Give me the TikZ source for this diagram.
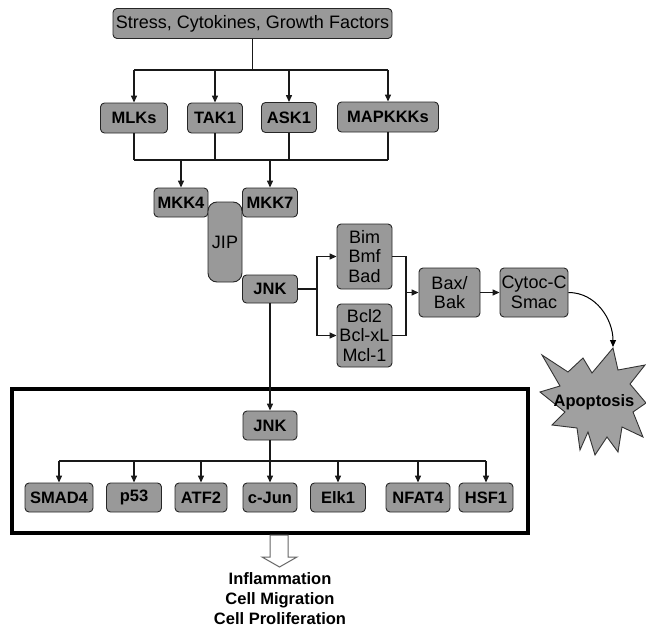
\documentclass[tikz,border=0pt]{standalone}
\usepackage{fontspec}
\setmainfont{Liberation Sans}
\usetikzlibrary{arrows.meta}
\definecolor{boxgray}{RGB}{153,153,153}
\definecolor{stargray}{RGB}{160,160,160}
\tikzset{
  box/.style={draw=black!85, fill=boxgray, rounded corners=4pt, line width=0.9pt, inner sep=0pt,
    align=center, font=\bfseries\fontsize{16.5}{18}\selectfont},
  rbox/.style={box, font=\fontsize{18}{19.5}\selectfont},
  conn/.style={line width=1.3pt, draw=black!90},
  arr/.style={conn, -{Triangle[length=7pt,width=6pt]}},
}
\begin{document}
\begin{tikzpicture}[x=1pt,y=-1pt]
\useasboundingbox (0,0) rectangle (646,629);

% frame
\node (frame) [draw, line width=4.5pt, minimum width=516pt, minimum height=144pt, inner sep=0pt] at (270,461) {};

% top
\node (stress) [rbox, minimum width=279pt, minimum height=30pt] at (252.5,23.5) {Stress, Cytokines, Growth Factors};
\node (mlks) [box, minimum width=67pt, minimum height=30pt] at (134,118) {MLKs};
\node (tak1) [box, minimum width=55pt, minimum height=30pt] at (215,118) {TAK1};
\node (ask1) [box, minimum width=55pt, minimum height=30pt] at (289,117.5) {ASK1};
\node (mapkkks) [box, minimum width=101pt, minimum height=30pt] at (388,117) {MAPKKKs};

\node (mkk4) [box, minimum width=54pt, minimum height=29pt] at (181,202.5) {MKK4};
\node (mkk7) [box, minimum width=55pt, minimum height=29pt] at (270,202.5) {MKK7};
\node (jip) [rbox, rounded corners=9pt, minimum width=34pt, minimum height=80pt] at (225,242) {JIP};
\node (jnk) [box, minimum width=55pt, minimum height=28pt] at (270,289) {JNK};

\node (bim) [rbox, minimum width=55pt, minimum height=65pt] at (364.5,256.5) {Bim\\Bmf\\Bad};
\node (bcl) [rbox, minimum width=55pt, minimum height=63pt] at (364.5,335.5) {Bcl2\\Bcl-xL\\Mcl-1};
\node (bax) [rbox, minimum width=61pt, minimum height=49pt] at (449.5,292.5) {Bax/\\Bak};
\node (cyt) [rbox, minimum width=68pt, minimum height=49pt] at (534,292.5) {Cytoc-C\\Smac};

% star
\draw[fill=stargray, draw=black!80, line width=0.9pt]
 (613,348) -- (618,370) -- (645,365) -- (630,384) -- (646,403) -- (633,412) -- (643,437) -- (622,427)
 -- (618,452) -- (607,437) -- (595,455) -- (588,432) -- (580,450) -- (577,428) -- (552,425) -- (565,412)
 -- (540,392) -- (560,386) -- (542,355) -- (568,372) -- (583,358) -- (592,373) -- cycle;
\node (apop) [font=\bfseries\fontsize{16.5}{18}\selectfont, inner sep=0pt] at (594,402) {Apoptosis};
\coordinate (startip) at (613,347);

% inner
\node (jnk2) [box, minimum width=54pt, minimum height=29pt] at (270,425.5) {JNK};
\node (smad4) [box, minimum width=68pt, minimum height=29pt] at (59,497.5) {SMAD4};
\node (p53) [box, minimum width=55pt, minimum height=29pt] at (134,497.5) {p53};
\node (atf2) [box, minimum width=52pt, minimum height=29pt] at (201,497.5) {ATF2};
\node (cjun) [box, minimum width=54pt, minimum height=29pt] at (270,497.5) {c-Jun};
\node (elk1) [box, minimum width=55pt, minimum height=29pt] at (338,497.5) {Elk1};
\node (nfat4) [box, minimum width=64pt, minimum height=29pt] at (418,497.5) {NFAT4};
\node (hsf1) [box, minimum width=54pt, minimum height=29pt] at (486,497.5) {HSF1};

% output
\draw[fill=white, draw=black!60, line width=1pt] (270,535) -- (288,535) -- (288,557) -- (297,557) -- (279.5,567) -- (262,557) -- (270,557) -- cycle;
\node (out) [font=\bfseries\fontsize{16.5}{20}\selectfont, align=center, inner sep=0pt] at (280,598.5) {Inflammation\\Cell Migration\\Cell Proliferation};

% connectors top
\coordinate (t1) at (252,70);
\draw[conn] (stress.south) -- (stress.south |- t1);
\draw[conn] (mlks.north |- t1) -- (mapkkks.north |- t1);
\foreach \n in {mlks,tak1,ask1,mapkkks} \draw[arr] (\n.north |- t1) -- (\n.north);
\coordinate (t2) at (0,160);
\foreach \n in {mlks,tak1,ask1,mapkkks} \draw[conn] (\n.south) -- (\n.south |- t2);
\draw[conn] (mlks.south |- t2) -- (mapkkks.south |- t2);
\draw[arr] (mkk4.north |- t2) -- (mkk4.north);
\draw[arr] (mkk7.north |- t2) -- (mkk7.north);

% JNK branch
\coordinate (b1) at (317,289);
\draw[conn] (jnk.east) -- (b1);
\draw[arr] (b1) |- (bim.west);
\draw[arr] (b1) |- (bcl.west);
\coordinate (b2) at (406,292.5);
\draw[conn] (bim.east) -| (b2);
\draw[conn] (bcl.east) -| (b2);
\draw[arr] (b2) -- (bax.west);
\draw[arr] (bax.east) -- (cyt.west);
\draw[line width=1pt, -{Triangle[length=7pt,width=6pt]}] (cyt.east) to[out=0,in=90] (startip);

% JNK down
\draw[arr] (jnk.south) -- (jnk2.north);
\coordinate (t3) at (0,461);
\draw[conn] (jnk2.south) -- (jnk2.south |- t3);
\draw[conn] (smad4.north |- t3) -- (hsf1.north |- t3);
\foreach \n in {smad4,p53,atf2,cjun,elk1,nfat4,hsf1} \draw[arr] (\n.north |- t3) -- (\n.north);
\end{tikzpicture}
\end{document}
